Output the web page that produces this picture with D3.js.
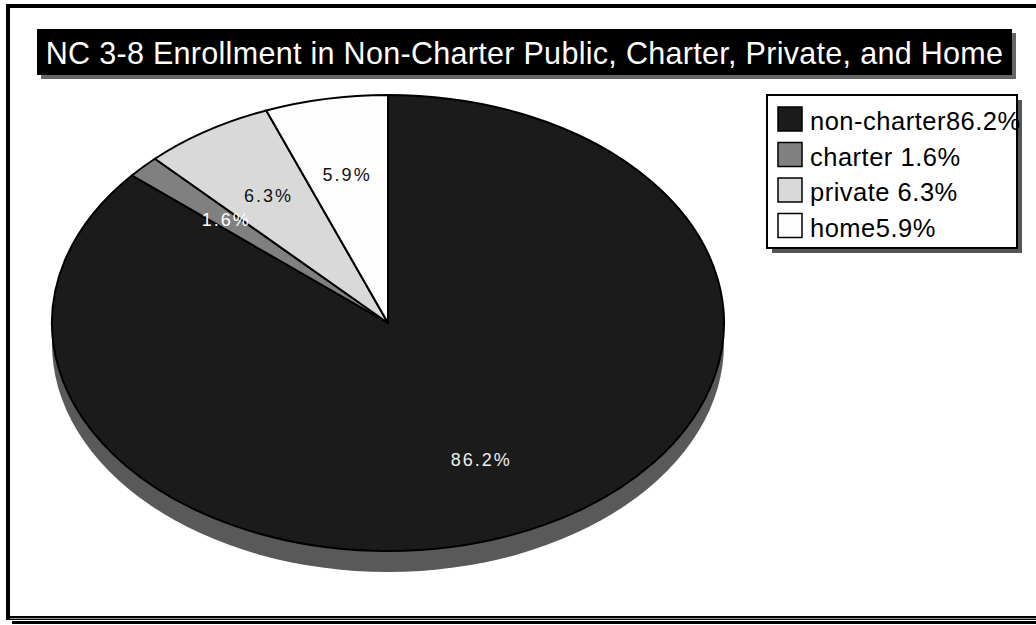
<!DOCTYPE html>
<html>
<head>
<meta charset="utf-8">
<script src="https://cdn.jsdelivr.net/npm/d3@7"></script>
<style>
  html, body { margin: 0; padding: 0; background: #ffffff; }
  svg { display: block; }
  text { font-family: "Liberation Sans", Arial, sans-serif; }
</style>
</head>
<body>
<svg id="chart" width="1036" height="625"></svg>
<script>
const title = "NC 3-8 Enrollment in Non-Charter Public, Charter, Private, and Home";
const categories = ["non-charter", "charter", "private", "home"];
const values = [86.2, 1.6, 6.3, 5.9];
const sliceLabels = ["86.2%", "1.6%", "6.3%", "5.9%"];
const legendLabels = ["non-charter86.2%", "charter 1.6%", "private 6.3%", "home5.9%"];
const colors = ["#1b1b1b", "#808080", "#d9d9d9", "#fdfdfd"];
const labelColors = ["#eeeeee", "#ffffff", "#111111", "#111111"];

const svg = d3.select("#chart");

// outer frame
svg.append("line").attr("x1", 12).attr("x2", 1036).attr("y1", 622.5).attr("y2", 622.5)
  .attr("stroke", "#000").attr("stroke-width", 3);
svg.append("rect").attr("x", 8).attr("y", 6).attr("width", 1040).attr("height", 612)
  .attr("fill", "#fff").attr("stroke", "#000").attr("stroke-width", 4);
svg.append("line").attr("x1", 10).attr("x2", 1036).attr("y1", 618.5).attr("y2", 618.5)
  .attr("stroke", "#999").attr("stroke-width", 1);

// title
const tb = {x: 37, y: 29, w: 975, h: 46};
svg.append("rect").attr("x", tb.x + 4).attr("y", tb.y + 4).attr("width", tb.w).attr("height", tb.h).attr("fill", "#666");
svg.append("rect").attr("x", tb.x).attr("y", tb.y).attr("width", tb.w).attr("height", tb.h).attr("fill", "#000");
svg.append("text").attr("x", tb.x + tb.w / 2).attr("y", tb.y + tb.h / 2 + 1)
  .attr("text-anchor", "middle").attr("dominant-baseline", "central")
  .attr("fill", "#fff").attr("font-size", 30.5).attr("letter-spacing", 0.3).text(title);

// pie
const cx = 388, cy = 323, rx = 336, ry = 228, depth = 21;
const k = ry / rx;

const pie = d3.pie().sort(null).value(d => d).startAngle(0).endAngle(2 * Math.PI);
const arcs = pie(values);
const arc = d3.arc().innerRadius(0).outerRadius(rx);
const labelArc = d3.arc().innerRadius(rx * 0.66).outerRadius(rx * 0.66);

// depth (extrusion)
const side = svg.append("g").attr("transform", `translate(${cx},${cy + depth}) scale(1,${k})`);
side.append("path").attr("d", d3.arc().innerRadius(0).outerRadius(rx).startAngle(0).endAngle(2 * Math.PI)())
  .attr("fill", "#595959");
svg.append("rect").attr("x", cx - rx).attr("y", cy).attr("width", 2 * rx).attr("height", depth).attr("fill", "#595959");

const gPie = svg.append("g").attr("transform", `translate(${cx},${cy}) scale(1,${k})`);
gPie.selectAll("path.slice").data(arcs).enter().append("path")
  .attr("class", "slice")
  .attr("d", arc)
  .attr("fill", (d, i) => colors[i])
  .attr("stroke", "#000")
  .attr("stroke-width", 2)
  .attr("stroke-linejoin", "round")
  .attr("vector-effect", "non-scaling-stroke");

svg.selectAll("text.slabel").data(arcs).enter().append("text")
  .attr("class", "slabel")
  .attr("x", d => cx + labelArc.centroid(d)[0])
  .attr("y", d => cy + labelArc.centroid(d)[1] * k)
  .attr("text-anchor", "middle").attr("dominant-baseline", "central")
  .attr("font-size", 18).attr("letter-spacing", 2)
  .attr("fill", (d, i) => labelColors[i])
  .text((d, i) => sliceLabels[i]);

// legend
const lb = {x: 767, y: 95, w: 250, h: 153};
svg.append("rect").attr("x", lb.x + 5).attr("y", lb.y + 5).attr("width", lb.w).attr("height", lb.h).attr("fill", "#555");
svg.append("rect").attr("x", lb.x).attr("y", lb.y).attr("width", lb.w).attr("height", lb.h)
  .attr("fill", "#fff").attr("stroke", "#000").attr("stroke-width", 2);

const ly = d3.scaleBand().domain(categories).range([106, 248]).paddingInner(0);
const items = svg.selectAll("g.litem").data(categories).enter().append("g")
  .attr("class", "litem")
  .attr("transform", d => `translate(778,${ly(d)})`);
items.append("rect").attr("x", 0).attr("y", 1).attr("width", 24).attr("height", 24)
  .attr("fill", (d, i) => colors[i]).attr("stroke", "#000").attr("stroke-width", 1.5);
items.append("text").attr("x", 32).attr("y", 24)
  .attr("font-size", 25.5).attr("letter-spacing", 0.5).attr("fill", "#000")
  .text((d, i) => legendLabels[i]);
</script>
</body>
</html>
